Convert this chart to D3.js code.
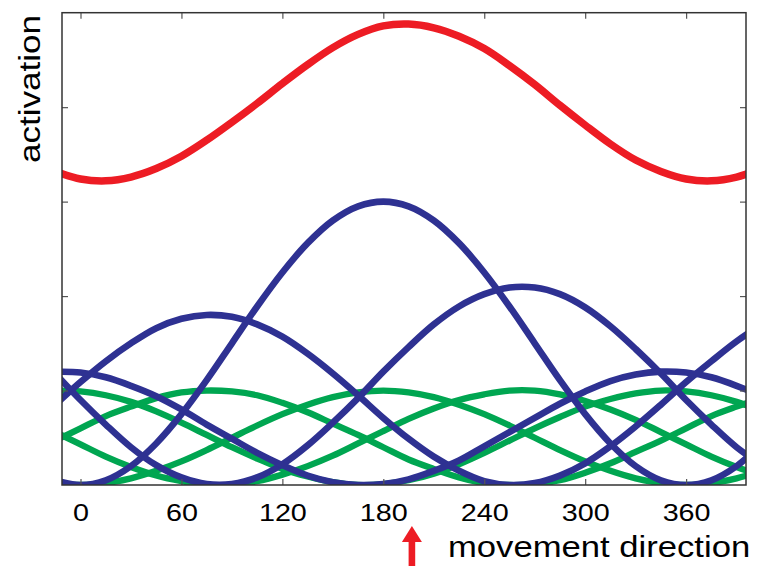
<!DOCTYPE html>
<html lang="en">

<head>
    <meta charset="UTF-8">
    <title>activation vs movement direction</title>
    <script src="https://cdn.jsdelivr.net/npm/d3@7"></script>
    <style>
        body {
            margin: 0;
            background: #fff;
        }

        text {
            font-family: "Liberation Sans", Arial, Helvetica, sans-serif;
            fill: #000;
        }

        .curve {
            fill: none;
            stroke-linejoin: round;
        }
    </style>
</head>

<body>
    <svg width="758" height="566"></svg>

    <script>
        // movement direction samples (deg), read every 15 deg
        const directions = [-15, 0, 15, 30, 45, 60, 75, 90, 105, 120, 135, 150, 165, 180, 195,
            210, 225, 240, 255, 270, 285, 300, 315, 330, 345, 360, 375, 390, 405];

        // green cells (unweighted tuning curves)
        const green78 = [0.47, 0.60, 0.73, 0.83, 0.92, 0.98, 1.00, 0.99, 0.95, 0.87, 0.77, 0.65, 0.53, 0.40, 0.27,
            0.17, 0.08, 0.02, 0.00, 0.01, 0.05, 0.13, 0.23, 0.35, 0.47, 0.60, 0.73, 0.83, 0.92];
        const green180 = [0.02, 0.00, 0.02, 0.07, 0.15, 0.25, 0.37, 0.50, 0.63, 0.75, 0.85, 0.93, 0.98, 1.00, 0.98,
            0.93, 0.85, 0.75, 0.63, 0.50, 0.37, 0.25, 0.15, 0.07, 0.02, 0.00, 0.02, 0.07, 0.15];
        const green262 = [0.56, 0.43, 0.30, 0.19, 0.10, 0.04, 0.00, 0.00, 0.04, 0.11, 0.20, 0.31, 0.44, 0.57, 0.70,
            0.81, 0.90, 0.96, 1.00, 1.00, 0.96, 0.89, 0.80, 0.69, 0.56, 0.43, 0.30, 0.19, 0.10];
        const green349 = [1.00, 0.99, 0.95, 0.88, 0.78, 0.66, 0.53, 0.40, 0.28, 0.17, 0.09, 0.03, 0.00, 0.01, 0.05,
            0.12, 0.22, 0.34, 0.47, 0.60, 0.72, 0.83, 0.91, 0.97, 1.00, 0.99, 0.95, 0.88, 0.78];

        // blue cells (weighted tuning curves)
        const blue78 = [0.85, 1.09, 1.31, 1.50, 1.66, 1.76, 1.80, 1.78, 1.70, 1.57, 1.39, 1.18, 0.95, 0.71, 0.49,
            0.30, 0.15, 0.04, 0.00, 0.02, 0.10, 0.23, 0.41, 0.62, 0.85, 1.09, 1.31, 1.52, 1.70];
        const blue180 = [0.05, 0.00, 0.05, 0.20, 0.44, 0.75, 1.11, 1.50, 1.89, 2.25, 2.56, 2.80, 2.95, 3.00, 2.95,
            2.80, 2.56, 2.25, 1.89, 1.50, 1.11, 0.75, 0.44, 0.20, 0.05, 0.00, 0.05, 0.20, 0.44];
        const blue262 = [1.18, 0.90, 0.64, 0.40, 0.21, 0.08, 0.01, 0.01, 0.08, 0.22, 0.42, 0.66, 0.92, 1.20, 1.46,
            1.70, 1.89, 2.02, 2.09, 2.09, 2.02, 1.88, 1.68, 1.44, 1.18, 0.90, 0.64, 0.40, 0.21];
        const blue349 = [1.20, 1.19, 1.14, 1.05, 0.94, 0.80, 0.64, 0.49, 0.34, 0.21, 0.10, 0.03, 0.00, 0.01, 0.06,
            0.15, 0.26, 0.41, 0.56, 0.71, 0.86, 0.99, 1.10, 1.17, 1.20, 1.19, 1.14, 1.05, 0.94];

        // population activation
        const red = [3.32, 3.24, 3.22, 3.26, 3.35, 3.48, 3.65, 3.84, 4.04, 4.25, 4.45, 4.63, 4.77, 4.86, 4.88,
            4.84, 4.75, 4.62, 4.44, 4.24, 4.02, 3.81, 3.61, 3.44, 3.32, 3.24, 3.22, 3.26, 3.35];

        const xTicks = [0, 60, 120, 180, 240, 300, 360];
        const xTickLabels = ["0", "60", "120", "180", "240", "300", "360"];
        const yTicks = [1, 2, 3, 4];
        const movementDir = 197;

        const width = 758;
        const height = 566;
        const margin = { top: 12.7, right: 12, bottom: 81, left: 62 };

        const svg = d3.select("svg")
            .attr("width", width)
            .attr("height", height);

        const x = d3.scaleLinear()
            .domain([-11, 395.6])
            .range([margin.left, width - margin.right]);

        const y = d3.scaleLinear()
            .domain([0, 5])
            .range([height - margin.bottom, margin.top]);

        // clip lines to the frame
        svg.append("clipPath")
            .attr("id", "plot")
            .append("rect")
            .attr("x", x.range()[0])
            .attr("y", y.range()[1])
            .attr("width", x.range()[1] - x.range()[0])
            .attr("height", y.range()[0] - y.range()[1]);

        const line = d3.line()
            .x((d, i) => x(directions[i]))
            .y(d => y(d))
            .curve(d3.curveCatmullRom);

        const curves = [
            { values: green78, color: "#00a651", w: 6.3 },
            { values: green180, color: "#00a651", w: 6.3 },
            { values: green262, color: "#00a651", w: 6.3 },
            { values: green349, color: "#00a651", w: 6.3 },
            { values: blue78, color: "#2e3192", w: 6.6 },
            { values: blue180, color: "#2e3192", w: 6.6 },
            { values: blue262, color: "#2e3192", w: 6.6 },
            { values: blue349, color: "#2e3192", w: 6.6 },
            { values: red, color: "#ed1c24", w: 7.5 }
        ];

        svg.append("g")
            .attr("clip-path", "url(#plot)")
            .selectAll("path")
            .data(curves)
            .join("path")
            .attr("class", "curve")
            .attr("stroke", d => d.color)
            .attr("stroke-width", d => d.w)
            .attr("d", d => line(d.values));

        // axes with inward ticks
        const bottom = svg.append("g")
            .attr("transform", `translate(0,${y(0)})`)
            .call(d3.axisBottom(x).tickValues(xTicks)
                .tickFormat((d, i) => xTickLabels[i])
                .tickSizeInner(-6).tickSizeOuter(0).tickPadding(20));
        bottom.selectAll("text")
            .attr("font-size", 23)
            .attr("transform", "scale(1.25,1)");

        svg.append("g")
            .attr("transform", `translate(0,${y(5)})`)
            .call(d3.axisTop(x).tickValues(xTicks).tickFormat("")
                .tickSizeInner(-6).tickSizeOuter(0));

        svg.append("g")
            .attr("transform", `translate(${x.range()[0]},0)`)
            .call(d3.axisLeft(y).tickValues(yTicks).tickFormat("")
                .tickSizeInner(-6).tickSizeOuter(0));

        svg.append("g")
            .attr("transform", `translate(${x.range()[1]},0)`)
            .call(d3.axisRight(y).tickValues(yTicks).tickFormat("")
                .tickSizeInner(-6).tickSizeOuter(0));

        svg.selectAll(".domain").remove();
        svg.selectAll(".tick line").attr("stroke", "#555").attr("stroke-width", 1.2);

        // frame
        svg.append("rect")
            .attr("x", x.range()[0])
            .attr("y", y.range()[1])
            .attr("width", x.range()[1] - x.range()[0])
            .attr("height", y.range()[0] - y.range()[1])
            .attr("fill", "none")
            .attr("stroke", "#333")
            .attr("stroke-width", 1.5);

        // axis titles
        svg.append("text")
            .attr("transform", "translate(40,89) rotate(-90) scale(1.17,1)")
            .attr("text-anchor", "middle")
            .attr("font-size", 30)
            .text("activation");

        svg.append("text")
            .attr("transform", "translate(448,557) scale(1.155,1)")
            .attr("font-size", 30)
            .text("movement direction");

        // arrow for the movement direction
        const ax = x(movementDir);
        svg.append("path")
            .attr("fill", "#ed1c24")
            .attr("d", `M${ax},526 L${ax + 10},542 L${ax + 3.3},542 L${ax + 3.3},566
                L${ax - 3.3},566 L${ax - 3.3},542 L${ax - 10},542 Z`);
    </script>
</body>

</html>
